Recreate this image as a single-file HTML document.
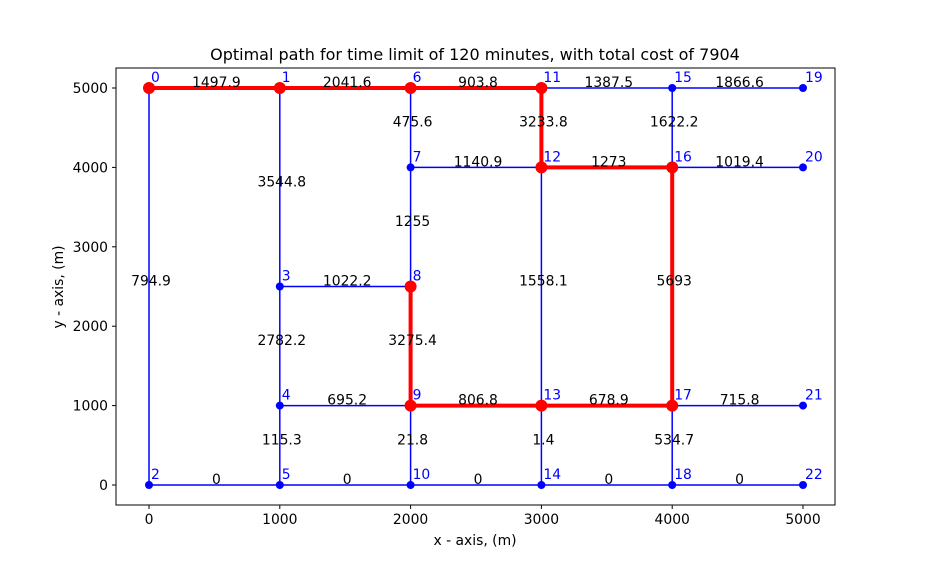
<!DOCTYPE html>
<html><head><meta charset="utf-8"><style>
body{margin:0;background:#fff}
text{font-family:"DejaVu Sans","Liberation Sans",sans-serif}
</style></head><body>
<svg id="chart" width="927" height="567" viewBox="0 0 927 567" xmlns="http://www.w3.org/2000/svg">
<rect width="927" height="567" fill="#fff"/>
<text x="475" y="60" text-anchor="middle" font-size="16">Optimal path for time limit of 120 minutes, with total cost of 7904</text>
<g id="edges"></g><g id="nodes"></g><g id="path"></g><g id="labels"></g>
<rect x="116" y="68" width="719" height="437" fill="none" stroke="#000" stroke-width="1"/>
<g id="axes"></g>
<text x="475" y="545" text-anchor="middle" font-size="13.9">x - axis, (m)</text>
<text transform="translate(63,287) rotate(-90)" text-anchor="middle" font-size="13.9">y - axis, (m)</text>
</svg>
<script>
const nodeX=[0,1000,0,1000,1000,1000,2000,2000,2000,2000,2000,3000,3000,3000,3000,4000,4000,4000,4000,5000,5000,5000,5000];
const nodeY=[5000,5000,0,2500,1000,0,5000,4000,2500,1000,0,5000,4000,1000,0,5000,4000,1000,0,5000,4000,1000,0];
const edgeFrom=[0,1,6,11,15,6,11,15,7,12,16,1,7,0,3,12,16,3,8,4,9,13,17,4,9,13,17,2,5,10,14,18];
const edgeTo=[1,6,11,15,19,7,12,16,12,16,20,3,8,2,8,13,17,4,9,9,13,17,21,5,10,14,18,5,10,14,18,22];
const edgeCost=["1497.9","2041.6","903.8","1387.5","1866.6","475.6","3233.8","1622.2","1140.9","1273","1019.4","3544.8","1255","794.9","1022.2","1558.1","5693","2782.2","3275.4","695.2","806.8","678.9","715.8","115.3","21.8","1.4","534.7","0","0","0","0","0"];
const pathNodes=[0,1,6,11,12,16,17,13,9,8];
const xTicks=[0,1000,2000,3000,4000,5000];
const yTicks=[0,1000,2000,3000,4000,5000];
const X=v=>149+v*0.1308, Y=v=>485-v*0.0794;
const NS="http://www.w3.org/2000/svg";
function mk(tag,attrs,parent,txt){const e=document.createElementNS(NS,tag);for(const k in attrs)e.setAttribute(k,attrs[k]);if(txt!==undefined)e.textContent=txt;document.getElementById(parent).appendChild(e);return e;}
edgeFrom.forEach((a,i)=>{const b=edgeTo[i];
 const l=mk('line',{x1:X(nodeX[a]),y1:Y(nodeY[a]),x2:X(nodeX[b]),y2:Y(nodeY[b]),stroke:'#0000ff','stroke-width':1.5},'edges');
 
 
 const t=mk('text',{x:(X(nodeX[a])+X(nodeX[b]))/2+2,y:(Y(nodeY[a])+Y(nodeY[b]))/2-1,'text-anchor':'middle','font-size':13.9},'labels',edgeCost[i]);
 
 
});
nodeX.forEach((v,i)=>{
 const c=mk('circle',{cx:X(v),cy:Y(nodeY[i]),r:4,fill:'#0000ff'},'nodes');
 
 
 const t=mk('text',{x:X(v)+2,y:Y(nodeY[i])-6,'font-size':13.9,fill:'#0000ff'},'labels',String(i));
 
 
});
const pts=pathNodes.map(n=>X(nodeX[n])+','+Y(nodeY[n])).join(' ');
const pl=mk('polyline',{points:pts,fill:'none',stroke:'#ff0000','stroke-width':4},'path');


pathNodes.forEach(n=>{
 const c=mk('circle',{cx:X(nodeX[n]),cy:Y(nodeY[n]),r:6,fill:'#ff0000'},'path');
 
 
});
xTicks.forEach(v=>{
 const l=mk('line',{x1:X(v),x2:X(v),y1:505,y2:509,stroke:'#000'},'axes');
 
 
 const t=mk('text',{x:X(v),y:524,'text-anchor':'middle','font-size':13.9},'axes',String(v));
 
 
});
yTicks.forEach(v=>{
 const l=mk('line',{x1:112,x2:116,y1:Y(v),y2:Y(v),stroke:'#000'},'axes');
 
 
 const t=mk('text',{x:108,y:Y(v)+5,'text-anchor':'end','font-size':13.9},'axes',String(v));
 
 
});
</script>
</body></html>
